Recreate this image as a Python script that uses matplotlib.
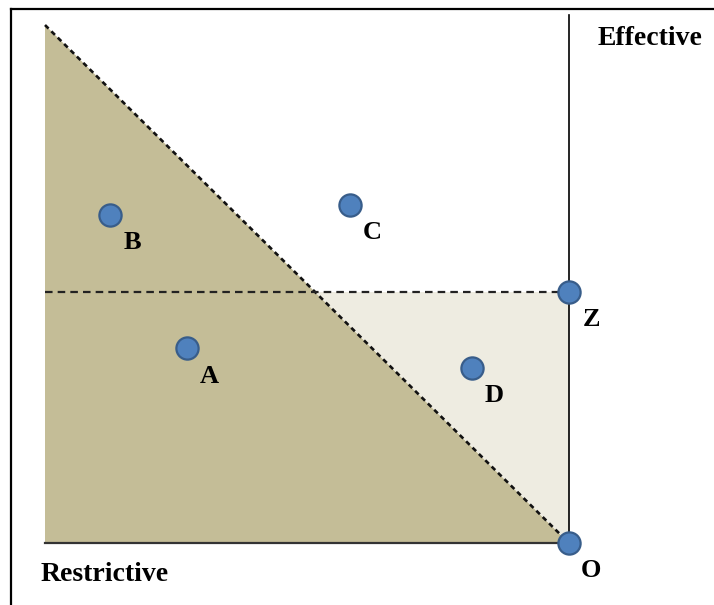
import matplotlib
matplotlib.use('Agg')
from matplotlib import pyplot as plt
from matplotlib.lines import Line2D

# positions on a 0-100 scale: x runs from Restrictive (0) to O (100),
# y runs from the bottom line (0) to the top of the shaded triangle (100)
point_names = ['B', 'C', 'A', 'D', 'Z', 'O']
point_x = [12.4, 58.2, 27.1, 81.5, 100.0, 100.0]
point_y = [63.3, 65.3, 37.6, 33.8, 48.5, 0.0]

threshold_y = 48.5      # level of the horizontal dashed line through Z
axis_top = 101.9        # top of the vertical axis
corner_labels = ['Restrictive', 'Effective']

dark_fill = '#C4BD97'
light_fill = '#EEECE1'
marker_face = '#4F81BD'
marker_edge = '#385D8A'

plt.rcParams['font.family'] = ['Liberation Serif', 'DejaVu Serif']

fig = plt.figure(figsize=(7.14, 6.05), dpi=100)
ax = fig.add_axes([0, 0, 1, 1])
ax.set_xlim(-8.588, 127.67)
ax.set_ylim(-11.97, 104.83)
ax.axis('off')

# shaded areas
ax.fill([0, 0, 100], [100, 0, 0], color=dark_fill, lw=0, zorder=1)
cross_x = 100 - threshold_y
ax.fill([cross_x, 100, 100], [threshold_y, threshold_y, 0], color=light_fill, lw=0, zorder=1)

# dashed guide lines
ax.plot([0, 100], [100, 0], color='#111111', lw=1.9, dashes=(1.9, 1.5), zorder=2)
ax.plot([0, 100], [threshold_y, threshold_y], color='#222222', lw=1.6, dashes=(3.4, 2.3), zorder=2)

# axes lines
ax.plot([100, 100], [0, axis_top], color='k', lw=1.2, zorder=3)
ax.plot([0, 100], [0, 0], color='#333333', lw=1.6, zorder=3)

# points and their labels
ax.plot(point_x, point_y, linestyle='none', marker='o', markersize=16,
        markerfacecolor=marker_face, markeredgecolor=marker_edge, markeredgewidth=1.6, zorder=4)
for name, x, y in zip(point_names, point_x, point_y):
    ax.annotate(name, (x, y), xytext=(16, -20), textcoords='offset points',
                ha='center', va='center', fontsize=19, fontweight='bold', zorder=5)

ax.text(-8.588 + 105 / 5.24, -(575 - 543) / 5.18, corner_labels[0],
        ha='center', va='center', fontsize=20, fontweight='bold')
ax.text(-8.588 + 650 / 5.24, (543 - 38) / 5.18, corner_labels[1],
        ha='center', va='center', fontsize=20, fontweight='bold')

# frame lines along the left and top edges
fig.add_artist(Line2D([11 / 714, 11 / 714], [0, 1 - 9 / 605], color='k', lw=1.6))
fig.add_artist(Line2D([11 / 714, 1], [1 - 9 / 605, 1 - 9 / 605], color='k', lw=1.6))

plt.savefig('out.png', dpi=100)
